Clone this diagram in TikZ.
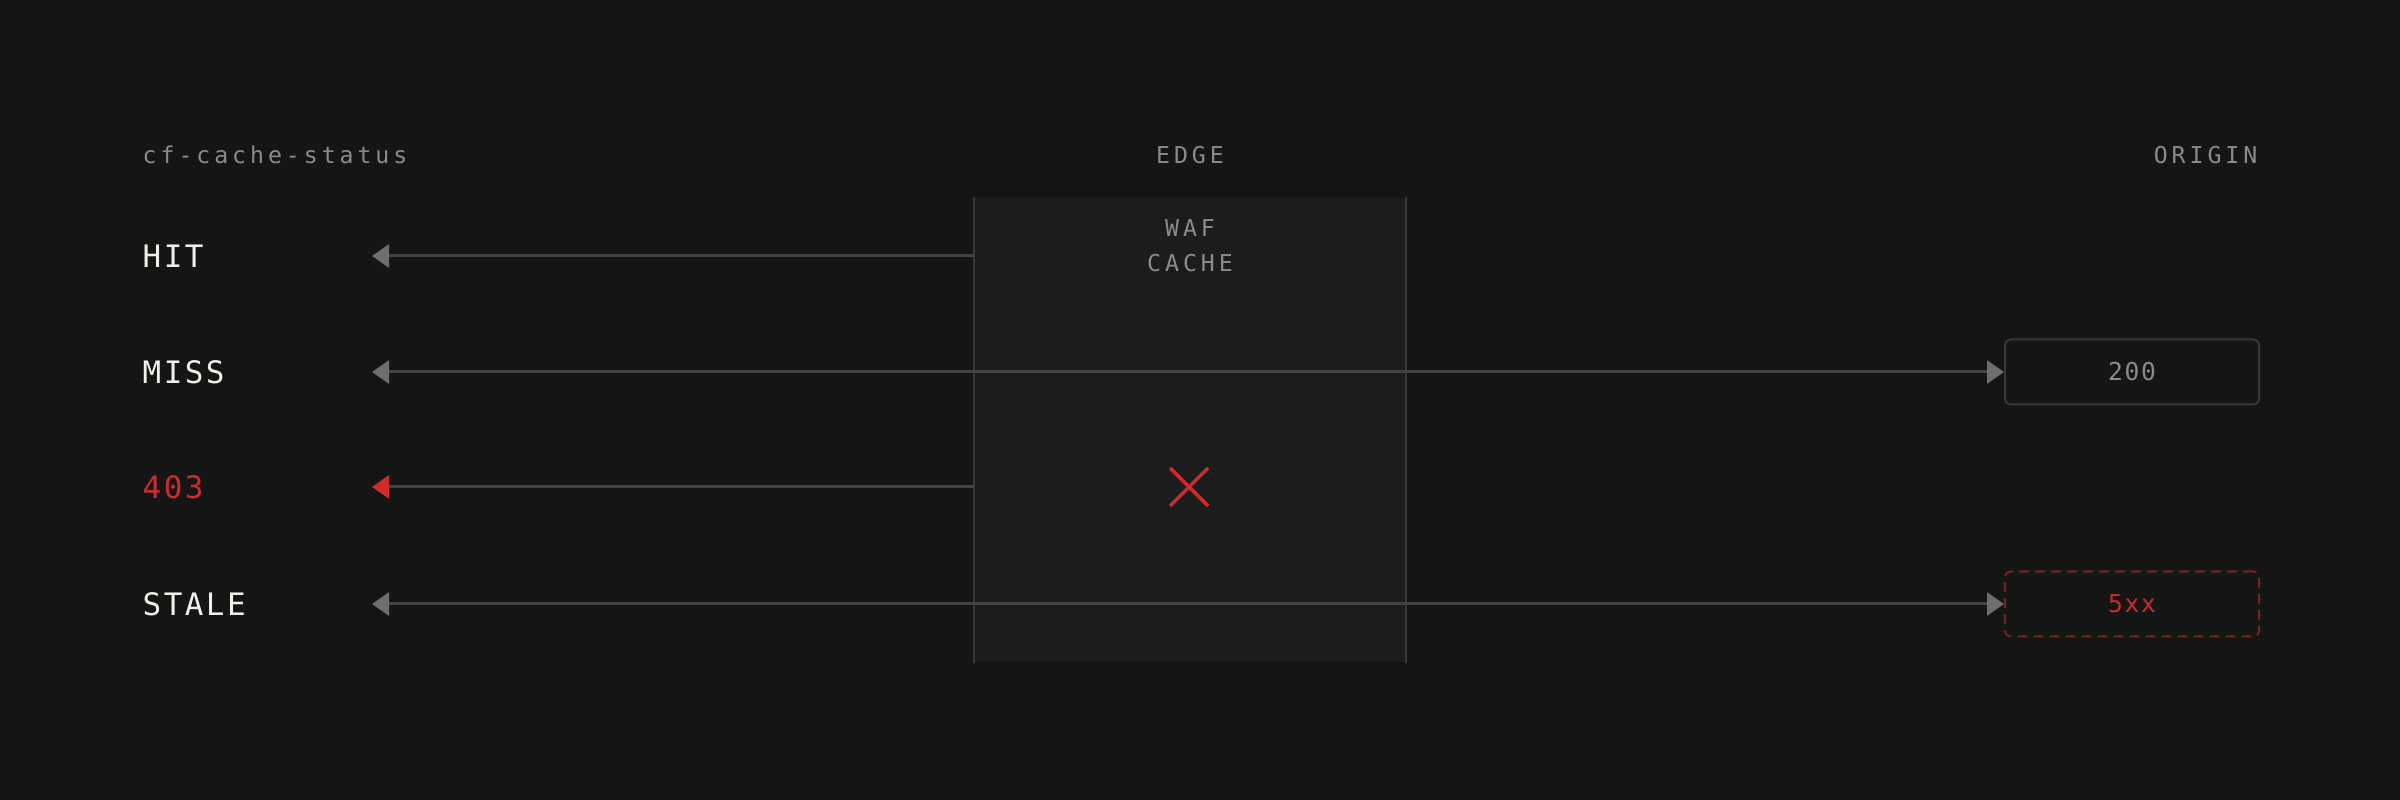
\documentclass[tikz,border=0pt]{standalone}
\usepackage{fontspec}
\setmonofont{DejaVu Sans Mono}
\newfontfamily\headfont[LetterSpace=17]{DejaVu Sans Mono}
\newfontfamily\rowfont[LetterSpace=8]{DejaVu Sans Mono}
\newfontfamily\codefont[LetterSpace=7]{DejaVu Sans Mono}
\usepackage{xcolor}
\usetikzlibrary{positioning,arrows.meta}

\definecolor{bgdark}{HTML}{141515}
\definecolor{boxfill}{HTML}{1B1C1C}
\definecolor{boxline}{HTML}{363737}
\definecolor{wiregray}{HTML}{434343}
\definecolor{tipgray}{HTML}{6E6E6C}
\definecolor{headgray}{HTML}{8C8C86}
\definecolor{labelwhite}{HTML}{F2EFE8}
\definecolor{alertred}{HTML}{D12A2A}
\definecolor{darkred}{HTML}{7A2222}

\tikzset{
  head/.style={font=\headfont\fontsize{6.6}{8}\selectfont, text=headgray, inner sep=0pt},
  rowlabel/.style={font=\rowfont\fontsize{8.8}{10}\selectfont, inner sep=0pt, anchor=west},
  wire/.style={draw=wiregray, line width=0.3mm},
  tipl/.style={{Triangle[length=1.7mm,width=2.3mm,color=#1]}-},
  tipboth/.style={{Triangle[length=1.7mm,width=2.3mm,color=tipgray]}-{Triangle[length=1.7mm,width=2.3mm,color=tipgray]}},
  codebox/.style={rectangle, rounded corners=0.6mm, minimum width=25.4mm, minimum height=6.5mm,
    line width=0.2mm, font=\codefont\fontsize{7}{8}\selectfont}
}

\begin{document}
\begin{tikzpicture}[x=0.1mm,y=-0.1mm]
\fill[bgdark] (0,0) rectangle (2400,800);
\useasboundingbox (0,0) rectangle (2400,800);

% Column headers
\node[head, anchor=west] (status) at (142,155) {cf-cache-status};
\node[head] (edgehead) at (1190,155) {EDGE};
\node[head, anchor=east] (originhead) at (2258,155) {ORIGIN};

% Edge box with its two side rules
\node[fill=boxfill, minimum width=43mm, minimum height=46.4mm, inner sep=0pt] (edge) at (1190,430) {};
\draw[boxline, line width=0.2mm] (edge.north west) -- (edge.south west);
\draw[boxline, line width=0.2mm] (edge.north east) -- (edge.south east);
\node[head] (waf) at (1190,228) {WAF};
\node[head] (cache) at (1190,263) {CACHE};

% Origin responses
\node[codebox, draw=boxline, text=headgray] (ok) at (2132,372) {200};
\node[codebox, draw=darkred, dashed, dash pattern=on 1mm off 0.6mm, text=alertred] (fail) at (2132,604) {5xx};

% Status rows and the points where their arrows end
\foreach \name/\txt/\y/\col in {hit/HIT/256/labelwhite, miss/MISS/372/labelwhite, err/403/487/alertred, stale/STALE/604/labelwhite} {
    \node[rowlabel, text=\col] (\name) at (142,\y) {\txt};
    \coordinate (\name tip) at (372,\y);
}

% Answers served by the edge
\draw[wire, tipl=tipgray] (hittip) -- (edge.west |- hittip);
\draw[wire, tipl=alertred] (errtip) -- (edge.west |- errtip);

% Answers that went to the origin
\draw[wire, tipboth] (misstip) -- (ok.west);
\draw[wire, tipboth] (staletip) -- (fail.west);

% Blocked by the WAF
\draw[alertred, line width=0.35mm] (1170,468) -- (1208,506);
\draw[alertred, line width=0.35mm] (1170,506) -- (1208,468);
\end{tikzpicture}
\end{document}
